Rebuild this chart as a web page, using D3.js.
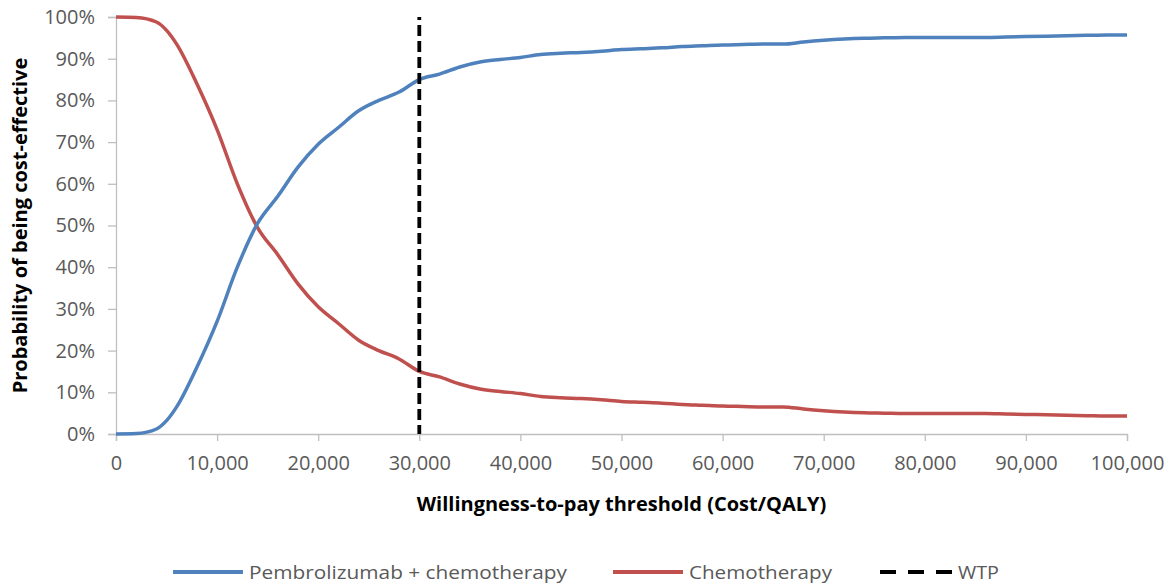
<!DOCTYPE html>
<html>
<head>
<meta charset="utf-8">
<script src="https://cdn.jsdelivr.net/npm/d3@7"></script>
<style>
  body { margin: 0; background: #fff; }
  svg text { font-family: "Open Sans", "Noto Sans", sans-serif; }
</style>
</head>
<body>
<div id="chart"></div>
<script>
  // willingness-to-pay thresholds
  const wtpValues = [0, 2000, 4000, 5000, 6000, 8000, 10000, 12000, 14000, 16000, 18000, 20000,
    22000, 24000, 26000, 28000, 30000, 32000, 34000, 36000, 38000, 40000, 42000, 44000, 46000,
    48000, 50000, 52000, 54000, 56000, 58000, 60000, 62000, 64000, 66000, 68000, 70000, 72000,
    74000, 76000, 78000, 80000, 82000, 84000, 86000, 88000, 90000, 92000, 94000, 96000, 98000, 100000];

  const pembroChemo = [0, 0.1, 1.2, 3.2, 6.5, 16, 27, 40, 50.5, 57, 64, 69.5,
    73.5, 77.5, 80, 82, 85, 86.3, 88, 89.2, 89.8, 90.3, 91, 91.3, 91.5,
    91.8, 92.2, 92.4, 92.6, 92.9, 93.1, 93.3, 93.4, 93.5, 93.5, 94, 94.4, 94.7,
    94.9, 95, 95.1, 95.1, 95.1, 95.1, 95.1, 95.2, 95.3, 95.4, 95.5, 95.6, 95.7, 95.7];

  const chemo = [100, 99.9, 98.8, 96.8, 93.5, 84, 73, 60, 49.5, 43, 36, 30.5,
    26.5, 22.5, 20, 18, 15, 13.7, 12, 10.8, 10.2, 9.7, 9, 8.7, 8.5,
    8.2, 7.8, 7.6, 7.4, 7.1, 6.9, 6.7, 6.6, 6.5, 6.5, 6, 5.6, 5.3,
    5.1, 5, 4.9, 4.9, 4.9, 4.9, 4.9, 4.8, 4.7, 4.6, 4.5, 4.4, 4.3, 4.3];

  const wtpThreshold = 30000;
  const xTicks = [0, 10000, 20000, 30000, 40000, 50000, 60000, 70000, 80000, 90000, 100000];
  const yTicks = [0, 10, 20, 30, 40, 50, 60, 70, 80, 90, 100];
  const seriesNames = ['Pembrolizumab + chemotherapy', 'Chemotherapy', 'WTP'];

  const width = 1176;
  const height = 584;
  const margin = { top: 17, right: 49, bottom: 150, left: 116 };
  const innerW = width - margin.left - margin.right;
  const innerH = height - margin.top - margin.bottom;

  const blue = '#4f81bd';
  const red = '#c0504d';
  const axisGrey = '#bfbfbf';
  const textGrey = '#595959';

  const svg = d3.select('#chart')
    .append('svg')
    .attr('width', width)
    .attr('height', height);

  const g = svg.append('g')
    .attr('transform', `translate(${margin.left},${margin.top})`);

  const x = d3.scaleLinear().domain([0, 100000]).range([0, innerW]);
  const y = d3.scaleLinear().domain([0, 100]).range([innerH, 0]);

  // y axis
  const yAxis = g.append('g')
    .call(d3.axisLeft(y).tickValues(yTicks).tickSize(8).tickPadding(13).tickFormat(d => d + '%'));
  yAxis.select('.domain').attr('stroke', axisGrey).attr('stroke-width', 1.3);
  yAxis.selectAll('.tick line').attr('stroke', axisGrey).attr('stroke-width', 1.3);
  yAxis.selectAll('.tick text')
    .attr('fill', textGrey)
    .style('font-size', '20px')
    .style('font-family', '"Open Sans", sans-serif');

  // x axis
  const xAxis = g.append('g')
    .attr('transform', `translate(0,${innerH})`)
    .call(d3.axisBottom(x).tickValues(xTicks).tickSize(7).tickPadding(15).tickFormat(d3.format(',')));
  xAxis.select('.domain').attr('stroke', axisGrey).attr('stroke-width', 1.3);
  xAxis.selectAll('.tick line').attr('stroke', axisGrey).attr('stroke-width', 1.3);
  xAxis.selectAll('.tick text')
    .attr('fill', textGrey)
    .style('font-size', '20px')
    .style('font-family', '"Open Sans", sans-serif');

  // axis titles
  svg.append('text')
    .attr('x', margin.left + innerW / 2)
    .attr('y', 511)
    .attr('text-anchor', 'middle')
    .style('font-size', '20px')
    .style('font-weight', 'bold')
    .text('Willingness-to-pay threshold (Cost/QALY)');

  svg.append('text')
    .attr('transform', `translate(27,${margin.top + innerH / 2}) rotate(-90)`)
    .attr('text-anchor', 'middle')
    .style('font-size', '20px')
    .style('font-weight', 'bold')
    .text('Probability of being cost-effective');

  // curves
  const line = d3.line()
    .x((d, i) => x(wtpValues[i]))
    .y(d => y(d))
    .curve(d3.curveMonotoneX);

  g.append('path')
    .datum(chemo)
    .attr('fill', 'none')
    .attr('stroke', red)
    .attr('stroke-width', 3.5)
    .attr('d', line);

  g.append('path')
    .datum(pembroChemo)
    .attr('fill', 'none')
    .attr('stroke', blue)
    .attr('stroke-width', 3.5)
    .attr('d', line);

  // WTP threshold
  g.append('line')
    .attr('x1', x(wtpThreshold))
    .attr('x2', x(wtpThreshold))
    .attr('y1', y(100))
    .attr('y2', y(0))
    .attr('stroke', '#000')
    .attr('stroke-width', 3.8)
    .attr('stroke-dasharray', '11,5')
    .attr('stroke-dashoffset', 8);

  // legend
  const legendItems = [
    { name: seriesNames[0], color: blue, dash: null, x: 173, len: 70, w: 318 },
    { name: seriesNames[1], color: red, dash: null, x: 613, len: 70, w: 143 },
    { name: seriesNames[2], color: '#000', dash: '16,12', x: 880, len: 72, w: 41 }
  ];
  const legend = svg.append('g').attr('transform', 'translate(0,572)');
  const item = legend.selectAll('g')
    .data(legendItems)
    .enter()
    .append('g')
    .attr('transform', d => `translate(${d.x},0)`);
  item.append('line')
    .attr('x1', 0)
    .attr('x2', d => d.len)
    .attr('stroke', d => d.color)
    .attr('stroke-width', 3.8)
    .attr('stroke-dasharray', d => d.dash);
  item.append('text')
    .attr('x', d => d.len + 6)
    .attr('dy', '0.35em')
    .attr('fill', textGrey)
    .attr('textLength', d => d.w)
    .attr('lengthAdjust', 'spacingAndGlyphs')
    .style('font-size', '19px')
    .text(d => d.name);
</script>
</body>
</html>
